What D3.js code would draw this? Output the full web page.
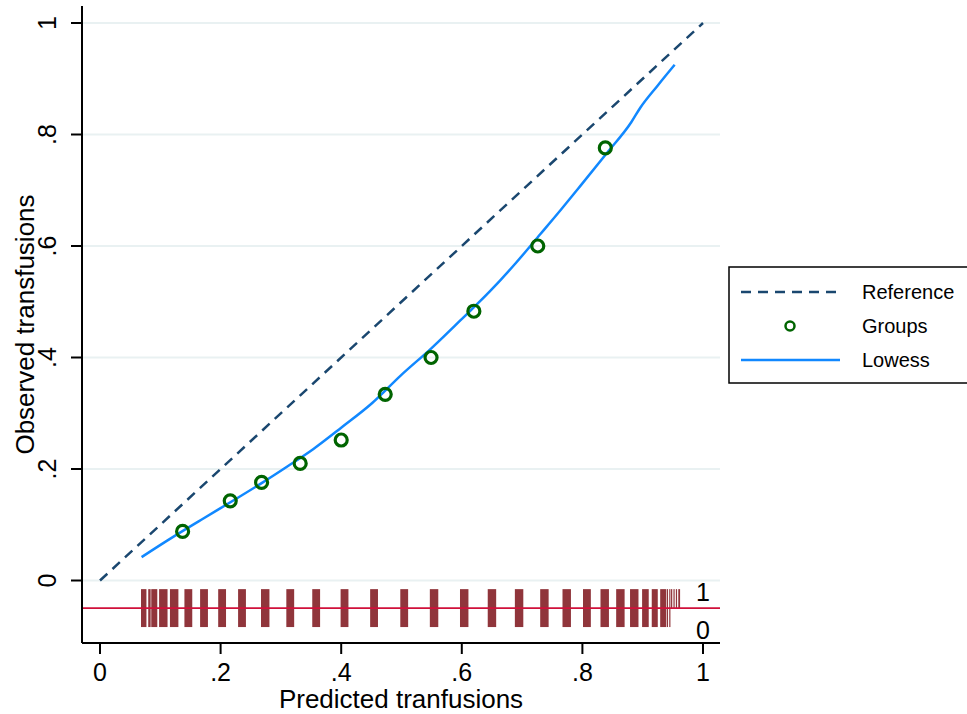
<!DOCTYPE html>
<html>
<head>
<meta charset="utf-8">
<script src="https://cdn.jsdelivr.net/npm/d3@7"></script>
<style>
  body { margin: 0; background: #fff; }
  text { font-family: "Liberation Sans", Arial, Helvetica, sans-serif; fill: #000; }
</style>
</head>
<body>
<script>
// Calibration plot: observed vs predicted transfusions

// group means (predicted, observed)
var groupPred = [0.137, 0.216, 0.268, 0.332, 0.400, 0.473, 0.549, 0.620, 0.726, 0.838];
var groupObs  = [0.088, 0.143, 0.176, 0.210, 0.252, 0.334, 0.400, 0.483, 0.600, 0.776];

// lowess smoother
var lowessPred = [0.069, 0.118, 0.168, 0.228, 0.270, 0.310, 0.354, 0.401, 0.451, 0.499,
                  0.549, 0.598, 0.646, 0.690, 0.730, 0.765, 0.796, 0.840, 0.881, 0.896, 0.925, 0.953];
var lowessObs  = [0.042, 0.076, 0.109, 0.148, 0.176, 0.204, 0.236, 0.275, 0.318, 0.368,
                  0.416, 0.467, 0.518, 0.570, 0.621, 0.666, 0.707, 0.766, 0.822, 0.848, 0.888, 0.925];

// rug: ranges of predicted values, outcome = 1 and outcome = 0
var rugLo1 = [0.068, 0.080, 0.085, 0.098, 0.116, 0.140, 0.166, 0.196, 0.229, 0.267, 0.309, 0.352,
              0.399, 0.448, 0.498, 0.547, 0.597, 0.643, 0.688, 0.730, 0.767, 0.801, 0.830, 0.856,
              0.879, 0.899, 0.915, 0.929, 0.940, 0.944, 0.947, 0.951, 0.955, 0.959];
var rugHi1 = [0.077, 0.084, 0.095, 0.112, 0.130, 0.153, 0.179, 0.209, 0.242, 0.281, 0.322, 0.365,
              0.412, 0.461, 0.511, 0.561, 0.611, 0.657, 0.702, 0.744, 0.781, 0.814, 0.844, 0.870,
              0.893, 0.910, 0.925, 0.939, 0.942, 0.945, 0.949, 0.953, 0.957, 0.962];
var rugLo0 = rugLo1.slice(0, 30);
var rugHi0 = rugHi1.slice(0, 30);

var xTicks = [0, 0.2, 0.4, 0.6, 0.8, 1];
var yTicks = [0, 0.2, 0.4, 0.6, 0.8, 1];
var tickLabels = ["0", ".2", ".4", ".6", ".8", "1"];

var legendLabels = ["Reference", "Groups", "Lowess"];

// SVG area
var svgWidth = 967;
var svgHeight = 714;

var svg = d3.select("body")
  .append("svg")
  .attr("width", svgWidth)
  .attr("height", svgHeight);

var plotLeft = 82, plotRight = 720, plotTop = 6, plotBottom = 643;

var xScale = d3.scaleLinear()
  .domain([0, 1])
  .range([100, 703]);

var yScale = d3.scaleLinear()
  .domain([0, 1])
  .range([580.5, 23]);

// rug placement (in y units)
var rugTop = -0.0155, rugMid = -0.0495, rugBot = -0.0835;

// gridlines
svg.append("g")
  .selectAll("line")
  .data(yTicks)
  .enter()
  .append("line")
  .attr("x1", plotLeft)
  .attr("x2", plotRight)
  .attr("y1", d => yScale(d))
  .attr("y2", d => yScale(d))
  .attr("stroke", "#e9f1f2")
  .attr("stroke-width", 2);

// reference line
svg.append("line")
  .attr("x1", xScale(0))
  .attr("y1", yScale(0))
  .attr("x2", xScale(1))
  .attr("y2", yScale(1))
  .attr("stroke", "#1a476f")
  .attr("stroke-width", 2.5)
  .attr("stroke-dasharray", "10,7");

// lowess
var lowessData = lowessPred.map((p, i) => [p, lowessObs[i]]);
var lowessLine = d3.line()
  .x(d => xScale(d[0]))
  .y(d => yScale(d[1]))
  .curve(d3.curveMonotoneX);

svg.append("path")
  .datum(lowessData)
  .attr("d", lowessLine)
  .attr("fill", "none")
  .attr("stroke", "#1188ff")
  .attr("stroke-width", 2.5);

// groups
svg.append("g")
  .selectAll("circle")
  .data(groupPred)
  .enter()
  .append("circle")
  .attr("cx", d => xScale(d))
  .attr("cy", (d, i) => yScale(groupObs[i]))
  .attr("r", 6)
  .attr("fill", "none")
  .attr("stroke", "#006400")
  .attr("stroke-width", 3.2);

// rug bars
var rugColor = "#90353b";
svg.append("g")
  .selectAll("rect")
  .data(rugLo1)
  .enter()
  .append("rect")
  .attr("x", d => xScale(d))
  .attr("width", (d, i) => Math.max(1.2, xScale(rugHi1[i]) - xScale(d)))
  .attr("y", yScale(rugTop))
  .attr("height", yScale(rugMid) - yScale(rugTop))
  .attr("fill", rugColor);

svg.append("g")
  .selectAll("rect")
  .data(rugLo0)
  .enter()
  .append("rect")
  .attr("x", d => xScale(d))
  .attr("width", (d, i) => Math.max(1.2, xScale(rugHi0[i]) - xScale(d)))
  .attr("y", yScale(rugMid))
  .attr("height", yScale(rugBot) - yScale(rugMid))
  .attr("fill", rugColor);

// red baseline
svg.append("line")
  .attr("x1", plotLeft)
  .attr("x2", plotRight)
  .attr("y1", yScale(rugMid))
  .attr("y2", yScale(rugMid))
  .attr("stroke", "#d0103a")
  .attr("stroke-width", 1.8);

// rug labels
svg.append("text")
  .attr("x", xScale(1))
  .attr("y", 601)
  .attr("text-anchor", "middle")
  .style("font-size", "25px")
  .text("1");

svg.append("text")
  .attr("x", xScale(1))
  .attr("y", 639)
  .attr("text-anchor", "middle")
  .style("font-size", "25px")
  .text("0");

// axes lines
svg.append("line")
  .attr("x1", plotLeft).attr("x2", plotLeft)
  .attr("y1", plotTop).attr("y2", plotBottom)
  .attr("stroke", "#000").attr("stroke-width", 2);

svg.append("line")
  .attr("x1", plotLeft).attr("x2", plotRight)
  .attr("y1", plotBottom).attr("y2", plotBottom)
  .attr("stroke", "#000").attr("stroke-width", 2);

// x ticks
var xAxis = svg.append("g");
xAxis.selectAll("line")
  .data(xTicks)
  .enter()
  .append("line")
  .attr("x1", d => xScale(d))
  .attr("x2", d => xScale(d))
  .attr("y1", plotBottom)
  .attr("y2", plotBottom + 11)
  .attr("stroke", "#000")
  .attr("stroke-width", 2);

xAxis.selectAll("text")
  .data(xTicks)
  .enter()
  .append("text")
  .attr("x", d => xScale(d))
  .attr("y", 681)
  .attr("text-anchor", "middle")
  .style("font-size", "25px")
  .text((d, i) => tickLabels[i]);

// y ticks
var yAxis = svg.append("g");
yAxis.selectAll("line")
  .data(yTicks)
  .enter()
  .append("line")
  .attr("x1", plotLeft - 11)
  .attr("x2", plotLeft)
  .attr("y1", d => yScale(d))
  .attr("y2", d => yScale(d))
  .attr("stroke", "#000")
  .attr("stroke-width", 2);

yAxis.selectAll("text")
  .data(yTicks)
  .enter()
  .append("text")
  .attr("transform", d => "translate(56," + yScale(d) + ") rotate(-90)")
  .attr("text-anchor", "middle")
  .style("font-size", "25px")
  .text((d, i) => tickLabels[i]);

// axis titles
svg.append("text")
  .attr("x", (plotLeft + plotRight) / 2)
  .attr("y", 708)
  .attr("text-anchor", "middle")
  .style("font-size", "26px")
  .text("Predicted tranfusions");

svg.append("text")
  .attr("transform", "translate(34," + ((plotTop + plotBottom) / 2) + ") rotate(-90)")
  .attr("text-anchor", "middle")
  .style("font-size", "26px")
  .text("Observed transfusions");

// legend
var legend = svg.append("g");
legend.append("rect")
  .attr("x", 729)
  .attr("y", 267)
  .attr("width", 250)
  .attr("height", 116)
  .attr("fill", "#fff")
  .attr("stroke", "#000")
  .attr("stroke-width", 1.5);

var legendY = [292, 326, 360];

legend.append("line")
  .attr("x1", 741).attr("x2", 840)
  .attr("y1", legendY[0]).attr("y2", legendY[0])
  .attr("stroke", "#1a476f")
  .attr("stroke-width", 2.5)
  .attr("stroke-dasharray", "10,7");

legend.append("circle")
  .attr("cx", 790)
  .attr("cy", legendY[1])
  .attr("r", 4.5)
  .attr("fill", "none")
  .attr("stroke", "#006400")
  .attr("stroke-width", 2.5);

legend.append("line")
  .attr("x1", 741).attr("x2", 840)
  .attr("y1", legendY[2]).attr("y2", legendY[2])
  .attr("stroke", "#1188ff")
  .attr("stroke-width", 2.5);

legend.selectAll("text")
  .data(legendLabels)
  .enter()
  .append("text")
  .attr("x", 862)
  .attr("y", (d, i) => legendY[i] + 7)
  .style("font-size", "20px")
  .text(d => d);
</script>
</body>
</html>
